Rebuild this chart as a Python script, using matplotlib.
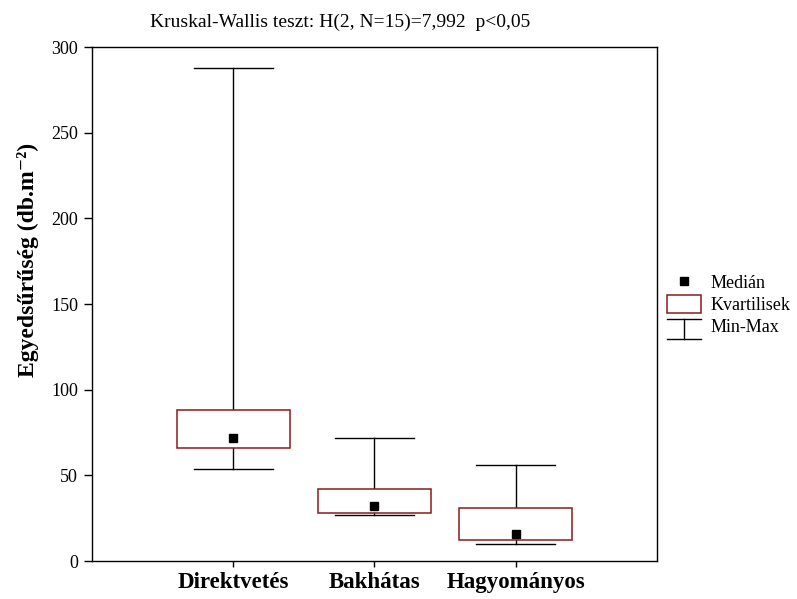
import numpy as np
import matplotlib
matplotlib.use("Agg")
import matplotlib.pyplot as plt
from matplotlib.lines import Line2D
from matplotlib.patches import Patch
from matplotlib.legend_handler import HandlerBase

plt.rcParams["font.family"] = ["Liberation Serif", "DejaVu Serif"]

groups = ["Direktvetés", "Bakhátas", "Hagyományos"]
mins = [54, 27, 10]
q1 = [66, 28, 12]
medians = [72, 32, 16]
q3 = [88, 42, 31]
maxs = [288, 72, 56]

box_color = "#8b1a1a"

fig = plt.figure(figsize=(7.97, 5.99), dpi=100)
ax = fig.add_axes([0.1154, 0.0634, 0.7089, 0.8581])

pos = np.arange(1, len(groups) + 1)
box_w = 0.8
cap_w = 0.56

for x, lo, a, m, b, hi in zip(pos, mins, q1, medians, q3, maxs):
    # whiskers + caps
    ax.plot([x, x], [b, hi], color="black", lw=1.0, zorder=1)
    ax.plot([x, x], [lo, a], color="black", lw=1.0, zorder=1)
    ax.plot([x - cap_w / 2, x + cap_w / 2], [hi, hi], color="black", lw=1.0, zorder=1)
    ax.plot([x - cap_w / 2, x + cap_w / 2], [lo, lo], color="black", lw=1.0, zorder=1)
    ax.add_patch(plt.Rectangle((x - box_w / 2, a), box_w, b - a,
                               facecolor="white", edgecolor=box_color, lw=1.1, zorder=2))
    ax.plot(x, m, "s", color="black", ms=6, zorder=3)

ax.set_xlim(0, 4)
ax.set_ylim(0, 300)
ax.set_yticks([0, 50, 100, 150, 200, 250, 300])
ax.set_xticks(pos)
ax.set_xticklabels(groups, fontsize=16.5, fontweight="bold")
ax.tick_params(axis="y", labelsize=13, length=6, width=1, pad=4)
ax.tick_params(axis="x", length=4, width=1, pad=4)
for s in ax.spines.values():
    s.set_linewidth(1)

fig.text(28 / 797, 1 - 260 / 599, "Egyedsűrűség (db.m\u207b\u00b2)",
         rotation=90, ha="center", va="center", fontsize=17, fontweight="bold")
fig.text(340 / 797, 1 - 22 / 599,
         "Kruskal-Wallis teszt: H(2, N=15)=7,992  p<0,05",
         ha="center", va="center", fontsize=14)


class MinMaxHandler(HandlerBase):
    def create_artists(self, legend, orig_handle, xd, yd, width, height, fontsize, trans):
        left = -xd
        cx = left + width / 2
        cy = (height - yd) / 2
        top = cy + 4.0
        bot = cy - 10.5
        lines = [
            Line2D([left, left + width], [top, top], color="black", lw=1.0),
            Line2D([left, left + width], [bot, bot], color="black", lw=1.0),
            Line2D([cx, cx], [bot, top], color="black", lw=1.0),
        ]
        for l in lines:
            l.set_transform(trans)
        return lines


class MinMaxHandle:
    pass


med_h = Line2D([], [], marker="s", color="black", ls="none", ms=5.5)
box_h = Patch(facecolor="white", edgecolor=box_color, lw=1.1)

fig.legend([med_h, box_h, MinMaxHandle()], ["Medián", "Kvartilisek", "Min-Max"],
           handler_map={MinMaxHandle: MinMaxHandler()},
           loc="upper left", bbox_to_anchor=(667 / 797, 1 - 273 / 599),
           frameon=False, fontsize=13, handlelength=1.9, handleheight=1.15,
           labelspacing=0.17, handletextpad=0.5, borderpad=0, borderaxespad=0)

fig.savefig("out.png", dpi=100)
